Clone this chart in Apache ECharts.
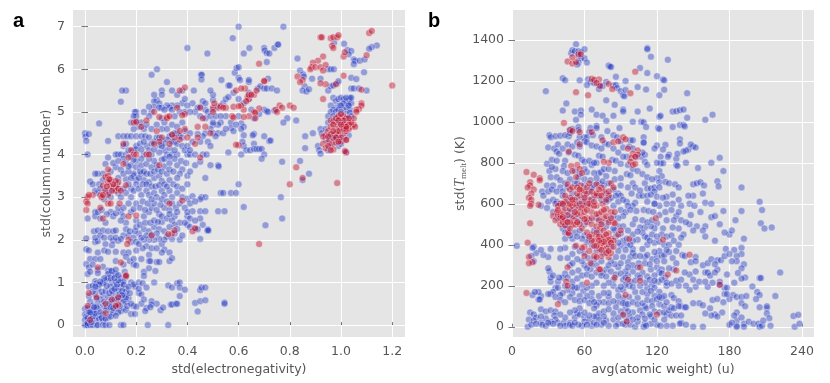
<!DOCTYPE html>
<html>
<head>
<meta charset="utf-8">
<style>html,body{margin:0;padding:0;background:#fff}#chart{width:830px;height:383px}</style>
<script src="https://cdn.jsdelivr.net/npm/echarts@6/dist/echarts.min.js"></script>
</head>
<body>
<div id="chart"></div>
<script>
// panel a ticks
const aXTicks = [0, 0.2, 0.4, 0.6, 0.8, 1.0, 1.2];
const aYTicks = [0, 1, 2, 3, 4, 5, 6, 7];
// panel b ticks
const bXTicks = [0, 60, 120, 180, 240];
const bYTicks = [0, 200, 400, 600, 800, 1000, 1200, 1400];

// panel a: [std(electronegativity), std(column number)]
const aBlue = [
[.6,7],[.775,7],[.577,6.73],[.4,6.5],[.478,6.37],[.62,6.37],[.642,6.5],[.7,6.5],[.702,6.44],[.71,6.38],[.72,6.37],[.74,6.5],[.752,6.58],[.755,6.58],[.83,6.25],[.84,5.97],[.71,6.17],[.585,5.92],[.592,6.03],[.6,6.05],[.6,5.8],[.605,5.75],[.26,5.87],[.281,6],[.453,5.87],[.456,5.87],[.455,5.76],[.533,5.75],[.56,5.62],[.565,5.62],[.64,5.7],[.64,5.75],[.715,5.78],[.675,5.55],[.685,5.6],[.7,5.55],[.71,5.55],[.73,5.55],[.75,5.5],[.64,5.45],
[.852,5.88],[.855,5.83],[.887,5.78],[.858,5.6],[.85,5.5],[.865,5.48],[.875,5.53],[.95,6],[.96,6],[.972,6],[.973,6.62],[1.012,6.6],[1.025,6.45],[1.04,6.43],[1.03,6.35],[1.05,6.23],[1.055,6.2],[1.05,6.12],[1.073,6.2],[1.092,6.23],[1.14,6.56],[1.12,6.52],[1.11,6.48],[1.09,5.93],[1.04,5.8],[1.06,5.77],[1.04,5.55],[1.05,5.55],[1.07,5.55],[1.1,5.5],[.95,5.5],[.96,5.6],[.92,5.78],[.985,5.67],[.99,5.72],[.97,5.62],
[.97,5.33],[.98,5.25],[.99,5.3],[1,5.33],[1.01,5.3],[1.02,5.25],[1.03,5.3],[1.035,5.33],[1.03,5.2],[.98,5.1],[.995,5.15],[1.01,5.05],[1.02,5.1],[1.04,5.2],[1.035,5.05],[.96,5.15],[.97,5.05],[1.02,4.95],[1.035,4.98],[.985,4.85],[.95,4.75],[.92,4.6],[.925,4.5],[.94,4.6],[.96,4.45],[.975,4.35],[.99,4.2],[1,4.55],[1.03,4.45],[1.01,4.4],[.91,4.2],[.915,4.1],[.95,4.1],[.96,4.2],[.92,4.02],[1.02,4.06],[.825,4.8],[.86,4.43],[.89,4.5],[.86,4.15],[.84,3.85],[.85,3.4],[.875,3.55],[.77,3.83],[.79,4.85],[.775,4.75],[.7,4.43],[.72,4.32],[.725,4.33],[.66,4.25],
[.62,4.2],[.63,4.1],[.645,4.1],[.66,4.13],[.67,4.13],[.68,4.13],[.69,4.13],[.7,4.0],[.69,3.9],[.61,4.0],[.56,4.05],[.6,4.9],[.61,4.73],[.62,4.65],[.61,4.6],[.62,4.45],[.615,4.3],[.66,4.48],[.655,4.45],[.55,4.9],[.57,4.75],[.53,4.75],[.57,4.62],[.52,4.7],[.5,4.7],[.49,4.6],[.45,4.9],[.47,5.05],[.48,5],[.5,4.75],[.47,4.5],[.5,4.5],[.52,4.5],[.54,4.5],[.46,5.25],[.46,4.43],[.48,4.3],[.49,4.2],[.51,4.43],[.44,4.48],[.45,5.12],[.47,5.2],[.5,5.05],[.52,5.13],[.5,5.28],[.54,5.2],[.42,5.2],[.43,5.0],[.5,5.4],[.55,5.3],[.58,5.45],[.56,5.35],[.6,5.3],[.62,5.2],[.65,5.05],[.7,5.05],[.71,5.02],[.715,5.0],[.74,5.03],[.66,4.85],[.68,4.95],[.64,5.3],
[.34,5.5],[.32,5.7],[.3,5.5],[.38,5.5],[.425,5.5],[.49,5.5],[.36,5.4],[.38,5.2],[.39,5.3],[.4,5.15],[.36,5.15],[.34,5.15],[.33,5.1],[.32,5.15],[.28,5.28],[.27,5.25],[.29,5.2],[.27,5.12],[.26,5],[.25,4.9],[.23,5],[.2,5],[.195,5],[.2,4.9],[.19,4.9],[.18,4.75],[.21,4.65],[.19,4.6],[.23,4.6],[.3,4.6],[.3,5.1],[.39,5],[.35,4.9],[.38,4.75],[.39,4.55],[.36,4.5],[.34,4.45],[.38,4.4],[.41,4.5],[.31,4.75],[.3,4.85],[.16,5.5],[.145,5.5],[.14,5.24],[.055,4.73],[.25,5.12],[.27,5.4],[.3,5.4],
[0,4.5],[.002,4.42],[.005,4.32],[.015,4.48],[.01,4],[.09,4.32],[.13,4.43],[.15,4.43],[.165,4.43],[.18,4.43],[.2,4.43],[.22,4.43],[.235,4.43],[.3,4.33],[.31,4.25],[.25,4.4],[.27,4.3],[.33,4.43],[.35,4.5],[.37,4.43],[.15,4.2],[.19,4.1],[.2,4.12],[.24,4.2],[.26,4.25],[.29,4.22],[.31,4.1],[.33,4.15],[.35,4.3],[.42,4.3],[.45,4.3],[.13,4],[.12,4],[.14,4],[.16,4],[.18,3.95],[.2,3.85],[.23,4],[.26,4],[.29,4.05],[.32,4],[.34,4],[.36,4],[.4,4],[.41,4],[.43,4],[.46,4],[.475,4],[.09,3.93],[.08,3.78],[.16,3.8],[.18,3.75],[.2,3.7],[.22,3.75],[.24,3.78],[.26,3.7],[.28,3.75],[.31,3.72],[.33,3.8],[.36,3.75],[.38,3.65],[.43,3.75],[.45,3.83],[.49,3.75],[.52,3.75],[.522,3.72],[.07,3.55],[.05,3.55],[.04,3.55],[.02,3.37],[.07,3.4],[.1,3.35],[.13,3.45],[.16,3.42],[.19,3.5],[.2,3.4],[.2,3.3],[.19,3.55],[.22,3.55],[.23,3.4],[.25,3.35],[.27,3.45],[.29,3.5],[.3,3.38],[.33,3.4],[.37,3.55],[.4,3.5],[.41,3.6],[.47,3.45],[.6,3.3],
[.05,3.1],[.08,3.15],[.1,3],[.13,3.1],[.16,3.1],[.18,3],[.18,3.2],[.22,3.05],[.24,3.15],[.25,3.05],[.27,3.1],[.28,3],[.3,3.15],[.31,3.05],[.33,3.15],[.34,3],[.36,3.1],[.38,3],[.4,2.96],[.42,3.02],[.455,3],[.47,3],[.53,3.1],[.54,3.1],[.57,3.1],[.59,3.1],[.765,3],[.45,2.95],[.62,2.77],[.52,2.67],[.545,2.67],[.45,2.67],[.42,2.67],[.47,2.67],[.705,2.34],[.77,2.5],
[.01,2.5],[.04,2.65],[.04,2.55],[.06,2.5],[.08,2.4],[.1,2.65],[.11,2.55],[.14,2.65],[.15,2.55],[.18,2.65],[.16,2.4],[.14,2.45],[.2,2.45],[.23,2.55],[.25,2.65],[.26,2.75],[.27,2.85],[.29,2.6],[.31,2.75],[.33,2.7],[.35,2.55],[.37,2.4],[.4,2.55],[.41,2.5],[.45,2.5],[.46,2.35],[.48,2.25],[.035,2.2],[.05,2.22],[.07,2.22],[.09,2.2],[.11,2.2],[.12,2.22],[.15,2.1],[.17,2.1],[.19,2.05],[.21,2.15],[.23,2.25],[.25,2.2],[.27,2.3],[.29,2.25],[.3,2.42],[.31,2.2],[.34,2.02],[.37,2],[.38,2.1],[.4,2.35],[.43,2.25],[.45,2.02],[.478,2.22],[.482,2.22],[.005,2.03],[.04,1.95],[.05,1.97],[.08,1.9],[.105,1.87],[.11,1.98],[.13,1.98],[.18,1.95],[.2,1.95],[.24,1.85],[.26,1.8],[.28,1.8],[.3,1.9],[.31,1.77],[.33,1.7],[.005,1.78],[.015,1.75],[.05,1.7],[.075,1.75],[.09,1.72],[.12,1.72],[.15,1.7],[.17,1.7],[.2,1.75],[.225,1.8],[.25,1.65],[.3,1.7],[.33,1.5],[.34,1.57],[.02,1.55],[.04,1.55],[.06,1.55],[.12,1.5],[.16,1.6],[.175,1.5],[.19,1.55],[.22,1.55],[.25,1.5],[.255,1.5],[.28,1.48],[.29,1.48],
[.005,1.43],[.015,1.35],[.03,1.42],[.05,1.3],[.07,1.37],[.09,1.28],[.1,1.27],[.15,1.42],[.19,1.42],[.2,1.4],[.23,1.25],[.23,1.15],[.25,1.33],[.275,1.27],[.01,1.2],[.02,1.25],[.05,1.22],[.11,1.18],[.12,1.2],[.14,1.1],[.16,1.13],[.04,1.03],[.045,.98],[.07,1],[.08,1.05],[.09,1.1],[.105,1],[.12,1],[.14,1],[.15,1.02],[.18,1],[.195,.9],[.19,.95],[.21,1],[.225,.98],[.27,1],[.325,.93],[.34,.88],[.36,.98],[.37,1],[.37,.88],[.39,.83],[.45,.82],[.455,.88],[.47,.88],[.015,.9],[.03,.92],[.05,.85],[.07,.98],[.1,.9],[.12,.88],[.14,.9],[.16,.85],[.16,.78],[.21,.75],[.22,.72],[.24,.88],[.37,.68],[.015,.68],[.04,.73],[.07,.7],[.09,.65],[.11,.72],[.14,.62],[.155,.7],[.17,.63],[.16,.55],[.22,.5],[.26,.56],[.28,.5],[.02,.55],[.03,.46],[.05,.5],[.07,.45],[.1,.55],[.12,.5],[.15,.4],[.19,.45],[.2,.43],[.26,.48],[.24,.4],[.335,.48],[.34,.48],[.355,.5],[.36,.5],[.43,.52],[.45,.56],[.47,.58],[.545,.53],[.545,.5],[.295,.35],[.305,.41],[.235,.33],[.44,.32],
[0,.38],[.01,.4],[.03,.35],[.05,.38],[.08,.35],[.1,.33],[.12,.4],[.14,.33],[.16,.35],[.18,.26],[.195,.26],[0,.25],[.005,.2],[.02,.25],[.035,.3],[.05,.22],[.07,.25],[.09,.18],[.11,.28],[.13,.3],[0,.12],[.01,.17],[.025,.15],[.04,.12],[.055,.15],[.07,.1],[0,0],[.005,0],[.01,0],[.02,0],[.03,0],[.045,0],[.05,0],[.07,0],[.08,0],[.095,0],[.14,0],[.15,0],[.245,0],[.325,0]
];
// second pass over the dense parts of panel a
const aBlueDense = [
[.01,.05],[.015,.3],[.025,.07],[.03,.2],[.04,.27],[.045,.42],[.06,.3],[.065,.17],[.06,.6],[.075,.55],[.085,.42],[.095,.5],[.1,.42],[.11,.4],[.115,.6],[.125,.62],[.13,.8],[.135,.72],[.145,.8],[.15,.55],[.15,.95],[.16,.65],[.17,.9],[.175,.75],[.03,.78],[.045,.62],[.065,.78],[.08,.8],[.085,.92],[.095,.75],[.105,.8],[.115,.85],[.125,.95],[.13,1.05],[.145,.7],[.1,1.1],[.115,1.1],[.09,1.2],[.105,1.27],[.12,1.3],[.075,1.1],[.06,1.02],[.055,.95],[.04,.9],[.13,1.17],[.155,1.25],[.02,.3],[.035,.42],[.08,.15],[.1,.2],[.12,.22],[.135,.45],[.165,.45],[.18,.5],[.21,.85],[.23,.6],[.255,.42],
[.04,2.05],[.06,2.1],[.075,2.05],[.1,2.05],[.12,2.05],[.14,2.02],[.16,2.25],[.175,2.2],[.195,2.2],[.2,2.3],[.215,2.35],[.235,2.4],[.255,2.4],[.27,2.45],[.285,2.42],[.3,2.55],[.32,2.5],[.34,2.45],[.35,2.35],[.36,2.25],[.35,2.15],[.32,2.08],[.31,2],[.29,2.02],[.27,2],[.25,2],[.23,2],[.21,1.9],[.22,2.05],[.24,2.1],[.26,2.12],[.28,2.15],[.33,2.3],[.39,2.4],[.41,2.3],[.44,2.25],[.43,2.45],
[.05,2.65],[.065,2.7],[.085,2.6],[.12,2.62],[.13,2.75],[.15,2.75],[.17,2.85],[.19,2.72],[.2,2.85],[.215,2.75],[.225,2.9],[.235,2.7],[.245,2.85],[.26,2.95],[.28,2.7],[.295,2.82],[.3,2.95],[.32,2.9],[.33,2.6],[.34,2.85],[.355,2.75],[.36,2.65],[.37,2.85],[.39,2.75],[.4,2.65],[.41,2.85],[.43,2.9],[.075,2.95],[.095,3.1],[.11,3.2],[.125,3.3],[.14,3],[.15,3.2],[.17,3.3],[.19,3.15],[.21,3.2],[.225,3.3],[.24,3.3],[.26,3.25],[.275,3.25],[.29,3.28],[.31,3.3],[.32,3.25],[.345,3.3],[.36,3.25],[.38,3.2],[.4,3.3],[.03,3.3],[.055,3.3],[.04,3.15],[.06,3.2],
[.1,3.6],[.12,3.7],[.14,3.65],[.15,3.55],[.17,3.6],[.18,3.45],[.21,3.45],[.215,3.6],[.23,3.6],[.24,3.55],[.255,3.55],[.27,3.6],[.285,3.65],[.3,3.6],[.32,3.55],[.33,3.65],[.345,3.6],[.36,3.45],[.35,3.9],[.3,3.88],[.27,3.85],[.25,3.9],[.22,3.9],[.19,3.88],[.17,3.72],[.15,3.9],[.11,3.8],[.13,3.85],[.31,3.9],[.33,3.95],[.375,3.85],[.395,3.8],
[.2,4.2],[.215,4.25],[.23,4.3],[.25,4.1],[.27,4.12],[.28,4.4],[.29,4.4],[.3,4.2],[.32,4.35],[.34,4.3],[.36,4.25],[.38,4.2],[.17,4.1],[.16,4.25],[.22,4.12],[.35,4.1],[.39,4.1],[.4,4.2],[.41,4.1],[.2,4.75],[.22,4.75],[.24,4.7],[.26,4.6],[.28,4.7],[.32,4.6],[.34,4.7],[.36,4.65],[.29,5.1],[.31,5.05],[.34,5.05],[.37,5],[.41,5],[.44,5.1],[.47,4.85],[.49,4.9],[.51,4.9],[.53,4.9],[.55,4.6],[.58,4.55],[.59,4.7],
[.95,4.9],[.96,5],[.98,5],[.99,5.05],[1,5],[1.01,5.2],[1.02,5.33],[1.03,5.15],[1.04,5.33],[1,5.15],[.97,4.9],[.98,4.75],[1,4.75],[1.015,4.75],[1.03,4.85],[1.04,4.9],[.94,4.35],[.955,4.35],[.97,4.45],[.985,4.4],[.995,4.35],[1,4.25]
];
const aRed = [
[.92,6.75],[.925,6.75],[.96,6.73],[.97,6.75],[.985,6.75],[.99,6.8],[.965,6.55],[.97,6.5],[.93,6.3],[.91,6.2],[.89,6.15],[.885,6.05],[.88,6],[.9,6.05],[.92,6.05],[.94,6.1],[.93,5.97],[1.01,6.3],[1.015,6.4],[1.11,6.85],[1.12,6.9],[1.1,6.33],[.68,6.13],[.7,5.73],[.83,5.83],[.85,5.75],[.84,5.7],[.93,5.3],[.94,5.65],[1.01,5.85],[1.08,5.52],[1.2,5.62],[.98,5.65],[.92,5.67],
[1.08,5.2],[1.08,5.15],[1.07,5.07],[1.06,5.05],[1.06,5],[.96,4.8],[.97,4.78],[1,4.85],[1.01,4.9],[1.02,4.85],[1.03,4.75],[.99,4.7],[1,4.6],[1.02,4.7],[1.04,4.65],[1.05,4.7],[1.055,4.65],[.98,4.6],[.95,4.55],[.94,4.45],[.93,4.42],[.95,4.3],[.965,4.25],[.98,4.28],[1,4.3],[1.01,4.5],[1.02,4.55],[1.02,4.35],[1.02,4.05],[1.015,4.08],[.93,4.25],[.94,4.15],[.97,4.12],[.99,4.45],[1.03,4.6],[.96,4.65],[.98,4.5],[.985,3.33],[.85,3.45],[.8,3.3],[.825,3.7],[.6,4.22],
[.76,5.15],[.77,5.1],[.8,5.15],[.815,5.1],[.745,5.05],[.75,5.0],[.68,5.08],[.66,5],[.665,4.98],[.62,5.05],[.64,4.9],[.61,5.15],[.575,4.9],[.58,5.12],[.6,5.13],[.58,4.87],[.62,4.88],[.665,4.85],[.52,5.1],[.53,5.13],[.5,5.1],[.505,5.2],[.55,5.1],[.54,5.1],[.59,5.5],[.625,5.55],[.61,5.55],[.64,5.3],[.635,5.35],[.64,5.4],[.66,5.4],[.63,5.25],[.65,5.4],[.67,5.5],[.7,5.72],[.45,5.1],[.5,5],[.49,4.5],[.46,4.85],[.47,4.65],[.39,5.57],[.37,5.5],[.36,5.1],[.39,4.95],[.38,4.92],[.32,4.88],[.32,4.85],[.33,4.9],[.27,5],[.29,4.88],[.24,4.8],[.19,4.75],[.2,4.77],[.22,4.65],[.28,4.55],[.39,4.6],[.37,4.55],[.44,4.4],[.44,4.65],[.4,4.4],[.37,4.35],[.33,4.25],[.3,4.4],[.29,4.3],[.27,4.25],[.35,4.4],[.34,4.47],[.43,4.25],[.45,3.93],[.59,4.23],
[.15,4.25],[.18,4.1],[.19,4],[.2,4],[.24,4],[.25,4],[.17,3.93],[.15,3.78],[.29,3.75],[.09,3.65],[.08,3.47],[.09,3.5],[.13,3.35],[.1,3.4],[.1,3.25],[.12,3.25],[.07,3.27],[.08,3.15],[.09,3.05],[.06,3.05],[.065,3],[.12,3.15],[.13,3.2],[.14,3.15],[.16,3.28],[.03,3.05],[.01,3],[.015,3.05],[.005,2.9],[.01,2.85],[.005,2.7],[.07,3.05],[.09,2.85],[.1,2.85],[.135,2.85],[.06,2.75],[.17,2.55],[.2,2.57],[.33,2.85],[.38,2.92],[.07,2.5],[.26,2.1],[.34,2.15],[.35,2.22],[.325,2.13],[.42,2.2],[.43,2.27],[.68,1.9],[.17,2],[.165,1.9],[.14,1.47],[.05,1.35],[.16,1.17],[.16,1.15],[.015,.75],[.045,.65],[.105,.6],[.13,.65],[.13,.48],[.08,.5],[.12,.45],[.08,.28],[.02,.12],[.01,.45],
[.97,4.7],[.98,4.85],[.99,4.9],[1,4.95],[1.01,4.7],[1.03,4.7],[1.04,4.75],[1.05,4.85],[.99,4.55],[1,4.4],[.97,4.38],[.96,4.48],[.97,4.55],[.95,4.42],[1.01,4.6],[1.03,4.85],[1.01,4.8],[.98,4.4],[.99,4.3],[1.02,4.6],[1.02,4.65],[.99,4.8],[1,4.7],[.95,4.2],[.96,4.1],[1.02,4.34],[.12,3.38],[.11,3.3],[.105,3.15],[.09,3.35],[.085,3.25],[.095,3.42]
];
// panel b: [avg(atomic weight), std(T melt)]
const bBlue = [
[53,1379],[49,1335],[50,1350],[52,1345],[55,1345],[57,1340],[60,1355],[55,1320],[57,1310],[60,1310],[62,1290],[55,1290],[54,1280],[112,1360],[112,1355],[115,1318],[129,1303],[106,1263],[112,1238],[120,1223],[125,1207],[126,1203],[126,1157],[122,1130],[145,1140],[104,1170],[111,1158],[42,1213],[44,1203],[28,1150],[56,1203],[63,1208],[65,1195],[62,1180],[68,1190],[72,1180],[72,1160],[75,1175],[78,1195],[80,1275],[81,1270],[82,1268],[86,1220],[94,1200],[84,1178],[86,1180],[87,1165],[90,1150],[92,1130],[93,1125],[94,1155],[78,1105],[85,1083],[92,1060],[92,1050],[104,1050],[114,1065],[122,1025],[123,1030],[133,1050],[136,1052],[139,1057],[142,1060],[145,1020],[160,1010],[166,1035],[45,1090],[42,1055],[52,1050],[57,1055],[53,1010],[55,975],[57,1035],[66,1060],[70,1035],[75,1030],[78,1005],[107,1000],[109,998],[111,975],[121,970],[122,965],[133,975],[139,985],[142,985],[143,978],[65,970],[70,980],[70,970],[79,955],[89,970],[64,950],[60,925],[55,960],[48,960],[50,965],[47,930],
[31,935],[32,925],[36,930],[40,932],[44,935],[48,945],[56,925],[62,925],[67,935],[74,925],[77,895],[84,935],[87,925],[90,905],[92,875],[97,880],[98,910],[100,910],[109,925],[109,900],[109,898],[120,885],[127,888],[125,865],[130,840],[136,820],[137,845],[139,915],[139,895],[146,865],[150,880],[148,890],[152,875],[144,860],[142,855],[172,825],[165,800],[144,800],[129,830],[123,830],[123,798],[125,798],[136,790],[137,785],[154,775],[107,830],[110,840],[122,760],[124,735],[120,725],[122,705],[127,707],[130,700],[175,760],[170,710],[171,685],[150,695],[153,700],[156,705],[159,690],[190,680],
[30,875],[35,870],[37,855],[39,845],[33,815],[29,795],[31,760],[37,810],[44,810],[43,785],[47,850],[52,840],[55,835],[58,815],[60,805],[72,835],[75,830],[74,755],[72,750],[68,750],[62,755],[78,735],[83,815],[86,810],[90,795],[85,760],[85,720],[90,725],[95,745],[98,740],[100,700],[103,830],[95,830],[100,870],[108,850],[110,805],[112,790],[118,870],[120,800],[110,700],[112,675],[115,675],[118,680],[118,660],[122,680],[135,695],[138,680],[133,645],[138,620],[128,635],[105,640],[108,640],[112,640],[115,645],[120,635],[125,630],[88,650],[90,640],[99,650],[95,610],[102,605],
[32,730],[37,730],[40,715],[44,700],[48,720],[52,700],[29,690],[34,690],[25,660],[40,680],[46,680],[26,640],[30,610],[34,620],[37,610],[40,600],[24,590],[29,580],[34,560],[38,530],[44,530],[50,570],[55,590],[60,640],[64,660],[68,690],[72,700],[78,650],[80,620],[84,590],[88,610],[90,570],[94,560],[100,590],[103,565],[109,570],[113,565],[117,560],[122,545],[127,560],[133,600],[140,590],[147,600],[151,590],[160,605],[165,600],[175,565],[190,565],[205,610],[207,570],[206,505],[209,480],[215,485],[185,520],[180,450],[176,460],[165,535],[160,490],[158,470],[153,490],[150,470],[147,500],[142,450],[140,435],[138,480],[133,485],[125,480],[120,505],[118,480],[115,490],[110,485],[106,485],[108,460],[104,425],[110,440],[112,435],[118,410],[122,415],[112,400],[108,380],[100,380],[95,400],[92,420],[95,430],[90,455],[100,450],[88,490],[85,470],[86,440],[90,395],[88,370],[92,340],[98,340],[100,360],[102,345],[105,310],[110,340],[116,330],[120,345],[124,345],[126,350],[130,365],[133,335],[136,370],[138,400],[141,350],[143,345],[148,315],[152,340],[152,320],[158,300],[162,310],[165,330],[170,325],[173,325],[177,380],[184,375],[190,385],[190,355],[186,345],[186,320],[182,320],[170,280],[160,265],[162,265],[147,255],[152,270],[143,265],[136,310],[134,280],[130,285],[115,280],[120,290],[124,280],[122,265],[118,250],[112,245],[108,265],[104,250],[100,270],[96,250],[94,270],[92,230],[88,290],[85,305],[82,320],[78,280],[75,265],[70,300],[65,280],[60,300],[55,275],[50,265],[48,300],[44,260],[42,240],[38,220],[32,220],[32,240],[31,270],[30,285],[34,250],[39,240],[30,340],[26,350],[20,360],[24,375],[40,335],[44,385],[50,430],[44,430],[52,390],[56,370],[60,360],[63,335],[66,305],[18,390],[17,385],[4,395],[16,345],[18,320],[32,380],[40,380],[50,355],
[192,305],[190,285],[193,240],[190,235],[205,238],[206,238],[222,265],[187,262],[178,255],[184,215],[176,190],[172,205],[166,215],[162,195],[166,130],[170,135],[176,160],[183,155],[180,135],[186,145],[190,145],[194,150],[190,115],[193,100],[199,197],[203,170],[205,155],[218,150],[205,95],[211,90],[211,100],[211,65],[213,42],[202,135],[174,70],[168,60],[165,55],[170,50],[155,115],[158,105],[150,115],[152,195],[147,180],[144,200],[138,200],[128,200],[124,260],[127,240],[121,220],[116,205],[118,190],[122,170],[118,150],[112,160],[122,110],[126,100],[132,155],[134,140],[138,125],[140,100],[143,95],[144,95],[132,95],[128,60],[132,55],[136,55],[140,20],[139,15],[144,10],[133,5],[128,5],[120,10],[115,15],[110,15],[115,50],[110,100],[111,90],[106,80],[108,60],[100,70],[97,50],[95,30],[94,90],[90,75],[88,120],[86,95],[80,145],[80,165],[84,200],[88,180],[92,180],[97,200],[102,170],[104,140],[108,170],[112,190],[115,175],[97,145],[94,115],[92,140],[76,120],[72,120],[70,105],[68,90],[66,165],[66,135],[62,150],[59,175],[56,150],[52,190],[50,165],[46,180],[42,165],[40,155],[36,190],[32,160],[24,150],[22,170],[17,155],[19,170],[22,133],[23,133],[15,70],[24,85],[28,75],[32,80],[36,75],[35,55],[18,60],[20,45],[14,35],[18,30],[24,20],[25,10],[13,0],[16,10],[28,5],[38,20],[43,20],[44,5],[48,20],[48,10],[50,5],[52,45],[54,65],[56,60],[60,45],[60,25],[58,5],[64,30],[66,5],[68,20],[70,50],[72,65],[76,75],[78,30],[74,10],[84,35],[88,15],[94,10],[98,10],[102,0],[109,0],[111,5],[104,25],[118,35],[123,5],[126,35],[186,30],[190,45],[192,15],[186,5],[186,0],[192,0],[186,70],[184,55],[180,10],[182,20],[196,25],[200,15],[204,15],[205,0],[207,5],[208,30],[214,5],[234,0],[233,52],[237,58],[238,15],[150,0],[158,0],[140,55],[160,65],[164,90],[175,120],[178,190]
];
// second pass over the dense parts of panel b
const bBlueDense = [
[42,640],[46,620],[50,650],[54,630],[58,610],[62,600],[66,620],[70,640],[74,620],[78,610],[82,630],[86,640],[92,620],[96,590],[98,570],[92,540],[88,530],[84,540],[80,520],[74,510],[70,530],[64,520],[60,500],[56,520],[52,540],[48,530],[44,500],[42,480],[46,480],[52,460],[56,470],[60,445],[64,430],[68,470],[72,460],[78,490],[84,480],[92,490],[96,470],[100,500],[102,525],[108,520],[112,510],[116,520],[104,465],[100,420],[98,400],[94,375],[88,410],[82,390],[76,360],[70,370],[66,395],[62,415],[58,430],[54,440],[48,445],[44,460],[36,600],[42,590],[46,560],[30,660],[33,670],[37,660],[42,660],[54,700],[60,690],[66,680],[76,690],[84,670],[90,690],[96,680],[102,680],[106,665],[112,610],[118,600],[122,590],[128,600],[132,570],[136,540],[140,520],[144,510],[128,520],[134,520],[124,450],[128,440],[132,445],[116,450],[120,440],[114,420],[126,400],[130,400],[134,420],[128,375],[122,370],[118,365],[112,350],[106,345],[96,315],[100,300],[104,290],[110,310],[114,305],[120,320],[126,320],[96,290],[90,310],[86,340],[80,300],[74,320],[68,330],[62,285],[58,320],[54,330],[50,310],[46,335],
[46,240],[50,220],[54,235],[58,250],[62,255],[66,245],[70,265],[74,250],[78,245],[82,270],[86,255],[90,260],[94,240],[98,220],[102,225],[106,240],[110,215],[114,230],[118,225],[124,230],[128,215],[132,210],[136,225],[140,230],[150,230],[155,220],[164,250],[168,265],[106,200],[100,195],[94,205],[90,195],[84,230],[80,215],[76,200],[70,215],[66,200],[62,190],[58,205],[54,190],[50,195],[44,200],[38,190],[34,170],[30,160],[36,145],[40,130],[44,120],[48,145],[52,130],[56,125],[60,130],[64,115],[68,120],[72,150],[76,165],[80,115],[84,125],[88,150],[92,115],[96,110],[100,120],[104,110],[108,115],[112,130],[116,125],[120,135],[124,140],[128,120],[126,150],[122,145],[116,100],[118,75],[122,70],[126,70],[130,80],[134,90],[138,100],[114,60],[110,40],[104,45],[100,35],[96,75],[92,55],[88,45],[84,65],[80,85],[76,50],[72,35],[68,50],[64,55],[60,70],[56,90],[52,80],[48,70],[44,45],[40,60],[36,35],[32,25],[28,40],[24,50],[20,15],[92,15],[86,5],[80,5],[76,20],[70,10],[62,10],[55,10],[52,20],[40,5],[34,15],[30,20],
[55,730],[60,720],[65,715],[70,725],[75,710],[80,700],[52,760],[56,745],[60,770],[66,790],[70,800],[76,770],[80,770],[64,810],[68,800],[42,760],[46,750],[36,770],[33,780],[38,890],[42,870],[46,890],[50,880],[54,900],[56,880],[60,905],[62,900],[66,885],[70,880],[74,870],[80,890],[84,870],[88,850],[92,830],[96,790],[100,770],[104,760],[108,745],[112,730],[116,720],[100,1000],[84,1030],[118,600],[150,640],[158,650],[146,640],[138,560],[148,545],[156,560],[168,540],[172,500],[182,470],[192,430],[160,440],[168,420],[176,345],[180,355],[168,305],[172,220],[178,160],[160,220]
];
const bRed = [
[102,1245],[80,1185],[72,1207],[66,1210],[68,1205],[70,1190],[73,1175],[63,1130],[53,1145],[46,1295],[50,1285],[53,1292],[55,1330],[50,1315],[57,1330],[43,995],[83,1160],[98,1140],[48,960],[50,955],[56,950],[66,950],[75,910],[56,890],[84,900],[88,905],[92,925],[94,915],[96,870],[47,855],[104,860],[104,840],[100,845],[99,825],[102,830],[98,805],[100,790],[102,795],[80,800],[76,805],[54,790],[56,770],[49,785],[58,750],[12,755],[18,742],[23,725],[23,715],[15,705],[15,690],[13,680],[18,670],
[16,650],[14,630],[16,620],[16,600],[15,590],[22,595],[15,505],[13,410],[14,340],[17,315],[14,310],[12,165],
[50,760],[53,730],[57,690],[60,660],[46,695],[48,670],[50,680],[54,680],[58,665],[62,680],[64,700],[70,695],[74,680],[76,660],[80,640],[82,700],[84,680],[80,660],[72,640],[68,640],[64,620],[60,610],[56,640],[52,620],[48,630],[44,640],[40,600],[37,560],[38,590],[34,540],[36,520],[38,546],[40,546],[42,560],[44,580],[46,600],[48,575],[50,540],[52,520],[54,580],[56,560],[58,540],[60,590],[65,590],[70,590],[75,600],[78,575],[82,560],[85,560],[76,530],[72,550],[66,560],[62,530],[50,500],[52,498],[46,460],[47,456],[58,480],[62,510],[66,500],[70,490],[73,480],[76,470],[80,455],[84,510],[85,505],[88,450],[82,430],[78,420],[74,430],[70,440],[68,420],[66,450],[62,460],[72,400],[74,410],[76,395],[78,380],[80,400],[72,380],[74,345],[80,340],[82,360],[68,345],[70,340],[64,370],[60,390],[84,420],[90,470],[97,428],[125,425],[119,530],[147,352],[136,275],[72,280],[73,280],[85,240],[65,310],[60,345],[58,385],[53,395],[46,290],[45,220],[46,200],[62,215],[38,110],[94,155],[95,25],[120,60],[106,290],[106,225],[129,255],[96,230],[172,205],[92,60],[40,500],
[38,570],[40,530],[42,510],[44,520],[46,545],[48,510],[50,590],[52,600],[54,550],[56,600],[58,580],[60,560],[62,570],[64,600],[66,530],[68,590],[70,550],[72,520],[74,560],[76,570],[78,540],[80,510],[82,530],[60,525],[56,500],[54,510],[52,560],[48,480],[42,535],[44,495],[46,510],[74,500],[70,460],[72,440],[76,440],[78,450],[80,425],[82,410],[76,415],[72,420],[74,375],[70,395],[68,395],[66,420],[78,360],[80,370],[84,390],[64,440],[62,650],[66,660],[70,650],[72,670],[60,630],[54,650],[56,670],[74,640],[78,620],[68,610],[44,610],[42,600],[48,600],[50,620]
];

const blue = 'rgba(25,45,190,0.5)';
const red = 'rgba(190,5,35,0.55)';
const edge = 'rgba(255,255,255,0.6)';
const ink = '#555555';
const font = '"DejaVu Sans"';

const melt = {
  t: { fontFamily: '"Liberation Serif"', fontStyle: 'italic', fontSize: 14, color: ink },
  sub: { fontFamily: '"Liberation Serif"', fontSize: 9, color: ink, verticalAlign: 'bottom', padding: [6, 0, 0, 0] }
};

// same tick look on both panels, extra axes only draw the top/right ticks
function mainAxis(gridIndex, position, name, nameGap, lo, hi, ticks, fmt) {
  return {
    type: 'value', gridIndex: gridIndex, position: position, min: lo, max: hi,
    name: name, nameLocation: 'middle', nameGap: nameGap,
    nameTextStyle: { color: ink, fontFamily: font, fontSize: 12.5, rich: melt },
    axisLine: { show: false },
    axisTick: { show: position === 'left', length: 3.5, lineStyle: { color: '#777' }, customValues: ticks },
    axisLabel: { color: ink, fontFamily: font, fontSize: 12.5, margin: 8, customValues: ticks, formatter: fmt },
    splitLine: { show: true, lineStyle: { color: '#fff', width: 1 } }
  };
}
function tickAxis(gridIndex, position, lo, hi, ticks) {
  return {
    type: 'value', gridIndex: gridIndex, position: position, min: lo, max: hi, offset: 1,
    axisLine: { show: false },
    axisTick: { show: true, length: 3, lineStyle: { color: '#777' }, customValues: ticks },
    axisLabel: { show: false },
    splitLine: { show: false }
  };
}
function scatter(name, data, color, x) {
  return {
    name: name, type: 'scatter', xAxisIndex: x, yAxisIndex: x, data: data,
    symbolSize: 7, silent: true, animation: false,
    itemStyle: { color: color, borderColor: edge, borderWidth: 0.8 }
  };
}

const chart = echarts.init(document.getElementById('chart'), null, { renderer: 'canvas' });
chart.setOption({
  animation: false,
  backgroundColor: '#fff',
  title: [
    { text: 'a', left: 8, top: 6, textStyle: { fontFamily: '"Liberation Sans"', fontWeight: 'bold', fontSize: 20, color: '#000' } },
    { text: 'b', left: 423, top: 6, textStyle: { fontFamily: '"Liberation Sans"', fontWeight: 'bold', fontSize: 20, color: '#000' } }
  ],
  grid: [
    { left: 73, top: 10, width: 332, height: 327, show: true, backgroundColor: '#e5e5e5', borderWidth: 0 },
    { left: 512, top: 10, width: 302, height: 327, show: true, backgroundColor: '#e5e5e5', borderWidth: 0 }
  ],
  xAxis: [
    mainAxis(0, 'bottom', 'std(electronegativity)', 24, -0.047, 1.25, aXTicks, v => v.toFixed(1)),
    mainAxis(1, 'bottom', 'avg(atomic weight) (u)', 24, 0, 250, bXTicks, v => v),
    tickAxis(0, 'top', -0.047, 1.25, aXTicks),
    tickAxis(1, 'top', 0, 250, bXTicks)
  ],
  yAxis: [
    mainAxis(0, 'left', 'std(column number)', 20, -0.28, 7.39, aYTicks, v => v),
    mainAxis(1, 'left', 'std({t|T}{sub|melt}) (K)', 42, -50, 1546, bYTicks, v => v),
    tickAxis(0, 'right', -0.28, 7.39, aYTicks),
    tickAxis(1, 'right', -50, 1546, bYTicks)
  ],
  series: [
    scatter('a other', aBlue.concat(aBlueDense), blue, 0),
    scatter('a highlighted', aRed, red, 0),
    scatter('b other', bBlue.concat(bBlueDense), blue, 1),
    scatter('b highlighted', bRed, red, 1)
  ]
});
</script>
</body>
</html>
